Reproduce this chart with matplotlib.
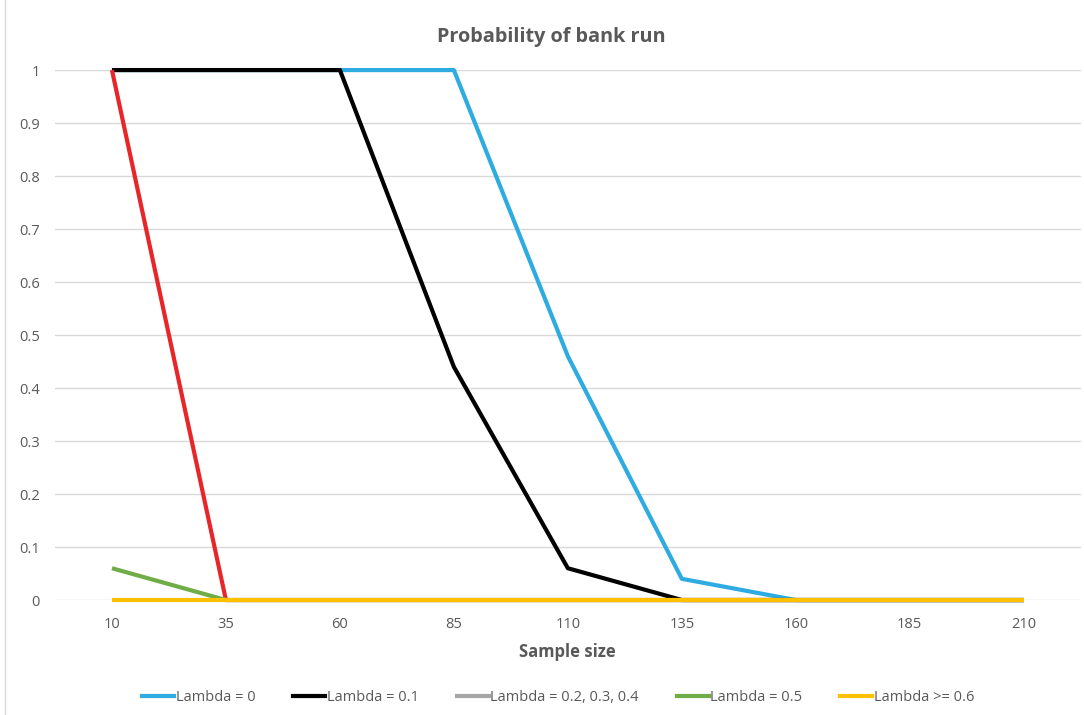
import matplotlib.pyplot as plt
from matplotlib.lines import Line2D

plt.rcParams['font.family'] = ['Open Sans', 'DejaVu Sans']

sample_size = [10, 35, 60, 85, 110, 135, 160, 185, 210]
lam_0 = [1, 1, 1, 1, 0.46, 0.04, 0, 0, 0]
lam_01 = [1, 1, 1, 0.44, 0.06, 0, 0, 0, 0]
lam_02_04 = [1, 0, 0, 0, 0, 0, 0, 0, 0]
lam_05 = [0.06, 0, 0, 0, 0, 0, 0, 0, 0]
lam_06 = [0, 0, 0, 0, 0, 0, 0, 0, 0]

labels = ['Lambda = 0', 'Lambda = 0.1', 'Lambda = 0.2, 0.3, 0.4',
          'Lambda = 0.5', 'Lambda >= 0.6']
legend_colors = ['#2EACE2', '#000000', '#A5A5A5', '#70AD47', '#FFC000']

fig = plt.figure(figsize=(10.84, 7.15), dpi=100)
ax = fig.add_axes([0.0507, 0.1608, 0.9463, 0.7412])

x = list(range(len(sample_size)))
lw = 3.0
series = [(lam_0, '#2EACE2'), (lam_01, '#000000'), (lam_02_04, '#E8262A'),
          (lam_05, '#70AD47'), (lam_06, '#FFC000')]
for i, (vals, col) in enumerate(series):
    ax.plot(x, vals, color=col, lw=lw, solid_capstyle='butt',
            zorder=3 + i, clip_on=False)

ax.set_xlim(-0.5, len(sample_size) - 0.5)
ax.set_ylim(0, 1)
ax.set_xticks(x)
ax.set_xticklabels([str(s) for s in sample_size])
ax.set_yticks([i / 10 for i in range(11)])
ax.set_yticklabels(['0'] + ['0.%d' % i for i in range(1, 10)] + ['1'])
ax.tick_params(length=0, labelsize=10.5, labelcolor='#595959')
ax.tick_params(axis='x', pad=12)
ax.tick_params(axis='y', pad=11)
for s in ax.spines.values():
    s.set_visible(False)
ax.grid(axis='y', color='#D9D9D9', lw=1)
ax.set_axisbelow(True)

fig.text(551 / 1084, 1 - 37 / 715, 'Probability of bank run', fontsize=14.3,
         fontweight='bold', color='#595959', ha='center', va='center')
ax.set_xlabel('Sample size', fontsize=12, fontweight='bold',
              color='#595959', labelpad=8)

handles = [Line2D([], [], color=c, lw=lw) for c in legend_colors]
fig.legend(handles, labels, loc='center', bbox_to_anchor=(0.515, 0.025),
           ncol=5, frameon=False, fontsize=10.5, handlelength=2.2,
           handletextpad=0.1, columnspacing=2.6, labelcolor='#595959')

fig.add_artist(Line2D([5 / 1084, 5 / 1084], [0, 1], color='#D9D9D9', lw=1,
                      transform=fig.transFigure))

fig.savefig('out.png', dpi=100)
